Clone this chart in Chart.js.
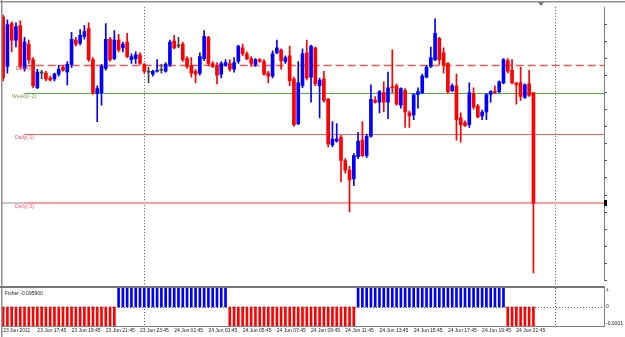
<!DOCTYPE html>
<html>
<head>
<meta charset="utf-8">
<script src="https://cdn.jsdelivr.net/npm/chart.js@4.4.1/dist/chart.umd.min.js"></script>
<style>
  html, body { margin: 0; padding: 0; background: #fff; }
  #wrap { position: relative; width: 625px; height: 337px; overflow: hidden; }
  canvas { position: absolute; left: 0; }
  #main { top: 0; }
  #ind { top: 288px; }
</style>
</head>
<body>
<div id="wrap">
  <canvas id="main" width="625" height="288"></canvas>
  <canvas id="ind" width="625" height="49"></canvas>
</div>
<script>
// 15 minute bars, 23 Jun 2011 15:45 .. 24 Jun 22:45
const opens = [
  1.42470, 1.42215, 1.42435, 1.42350, 1.42425, 1.42205, 1.42330, 1.42250, 1.42105, 1.42180,
  1.42180, 1.42155, 1.42150, 1.42175, 1.42210, 1.42185, 1.42225, 1.42350, 1.42335, 1.42370,
  1.42410, 1.42250, 1.42075, 1.42080, 1.42205, 1.42355, 1.42255, 1.42350, 1.42310, 1.42340,
  1.42250, 1.42255, 1.42275, 1.42225, 1.42185, 1.42175, 1.42190, 1.42195, 1.42190, 1.42225,
  1.42345, 1.42320, 1.42330, 1.42255, 1.42220, 1.42190, 1.42180, 1.42255, 1.42365, 1.42230,
  1.42220, 1.42175, 1.42220, 1.42230, 1.42200, 1.42240, 1.42310, 1.42280, 1.42255, 1.42225,
  1.42250, 1.42240, 1.42180, 1.42165, 1.42285, 1.42300, 1.42240, 1.42270, 1.42150, 1.41920,
  1.42115, 1.42285, 1.42160, 1.42310, 1.42115, 1.42150, 1.42045, 1.41810, 1.41830, 1.41850,
  1.41730, 1.41680, 1.41635, 1.41750, 1.41835, 1.41755, 1.41855, 1.42040, 1.42030, 1.42080,
  1.42030, 1.42110, 1.42115, 1.42015, 1.42090, 1.41975, 1.41965, 1.42070, 1.42080, 1.42160,
  1.42215, 1.42250, 1.42360, 1.42285, 1.42230, 1.42090, 1.42115, 1.41950, 1.41925, 1.41915,
  1.42075, 1.42010, 1.41960, 1.41980, 1.42070, 1.42085, 1.42085, 1.42130, 1.42245, 1.42195,
  1.42130, 1.42130, 1.42055, 1.42125, 1.42080
];
const highs = [
  1.42480, 1.42455, 1.42445, 1.42440, 1.42450, 1.42365, 1.42350, 1.42260, 1.42200, 1.42195,
  1.42190, 1.42165, 1.42180, 1.42220, 1.42220, 1.42240, 1.42390, 1.42365, 1.42405, 1.42425,
  1.42440, 1.42260, 1.42115, 1.42225, 1.42435, 1.42365, 1.42400, 1.42380, 1.42340, 1.42385,
  1.42280, 1.42290, 1.42285, 1.42230, 1.42210, 1.42195, 1.42250, 1.42225, 1.42235, 1.42350,
  1.42375, 1.42365, 1.42340, 1.42265, 1.42260, 1.42200, 1.42285, 1.42400, 1.42370, 1.42240,
  1.42235, 1.42240, 1.42250, 1.42250, 1.42260, 1.42325, 1.42330, 1.42290, 1.42265, 1.42255,
  1.42255, 1.42250, 1.42190, 1.42295, 1.42350, 1.42305, 1.42270, 1.42320, 1.42160, 1.42240,
  1.42305, 1.42350, 1.42325, 1.42315, 1.42155, 1.42190, 1.42050, 1.41930, 1.41920, 1.41860,
  1.41740, 1.41700, 1.41765, 1.41875, 1.41930, 1.41865, 1.42120, 1.42060, 1.42090, 1.42135,
  1.42185, 1.42300, 1.42125, 1.42105, 1.42100, 1.41985, 1.42075, 1.42105, 1.42175, 1.42220,
  1.42315, 1.42460, 1.42365, 1.42310, 1.42235, 1.42125, 1.42175, 1.41975, 1.41935, 1.42130,
  1.42105, 1.42020, 1.41990, 1.42075, 1.42090, 1.42115, 1.42140, 1.42255, 1.42255, 1.42250,
  1.42130, 1.42210, 1.42125, 1.42195, 1.42080
];
const lows = [
  1.42140, 1.42180, 1.42290, 1.42315, 1.42205, 1.42190, 1.42230, 1.42105, 1.42100, 1.42150,
  1.42140, 1.42140, 1.42140, 1.42165, 1.42190, 1.42120, 1.42210, 1.42320, 1.42325, 1.42355,
  1.42240, 1.42070, 1.41930, 1.42015, 1.42195, 1.42240, 1.42250, 1.42290, 1.42290, 1.42260,
  1.42230, 1.42230, 1.42225, 1.42180, 1.42130, 1.42165, 1.42185, 1.42180, 1.42185, 1.42215,
  1.42305, 1.42310, 1.42240, 1.42205, 1.42160, 1.42130, 1.42170, 1.42245, 1.42220, 1.42210,
  1.42125, 1.42155, 1.42215, 1.42190, 1.42185, 1.42230, 1.42270, 1.42250, 1.42215, 1.42215,
  1.42235, 1.42170, 1.42130, 1.42155, 1.42280, 1.42200, 1.42230, 1.42115, 1.41905, 1.41915,
  1.42105, 1.42145, 1.42030, 1.42115, 1.41950, 1.42030, 1.41800, 1.41800, 1.41825, 1.41620,
  1.41665, 1.41465, 1.41600, 1.41740, 1.41750, 1.41745, 1.41850, 1.42025, 1.41975, 1.41980,
  1.41945, 1.42080, 1.42015, 1.42000, 1.41900, 1.41900, 1.41940, 1.42000, 1.42075, 1.42155,
  1.42210, 1.42245, 1.42225, 1.42180, 1.42075, 1.42085, 1.41835, 1.41825, 1.41905, 1.41900,
  1.41995, 1.41950, 1.41940, 1.41940, 1.42030, 1.42075, 1.42080, 1.42125, 1.42180, 1.42125,
  1.42020, 1.42040, 1.42050, 1.42060, 1.41150
];
const closes = [
  1.42155, 1.42430, 1.42350, 1.42420, 1.42215, 1.42340, 1.42250, 1.42115, 1.42185, 1.42180,
  1.42150, 1.42145, 1.42175, 1.42200, 1.42195, 1.42225, 1.42355, 1.42330, 1.42375, 1.42395,
  1.42250, 1.42080, 1.42100, 1.42215, 1.42355, 1.42250, 1.42350, 1.42300, 1.42330, 1.42265,
  1.42265, 1.42275, 1.42230, 1.42190, 1.42185, 1.42190, 1.42195, 1.42195, 1.42225, 1.42340,
  1.42310, 1.42320, 1.42250, 1.42215, 1.42180, 1.42175, 1.42265, 1.42370, 1.42230, 1.42215,
  1.42170, 1.42230, 1.42235, 1.42200, 1.42235, 1.42320, 1.42280, 1.42255, 1.42230, 1.42250,
  1.42240, 1.42175, 1.42165, 1.42280, 1.42310, 1.42245, 1.42260, 1.42140, 1.41915, 1.42130,
  1.42280, 1.42155, 1.42320, 1.42125, 1.42145, 1.42040, 1.41815, 1.41840, 1.41840, 1.41730,
  1.41680, 1.41630, 1.41755, 1.41830, 1.41755, 1.41855, 1.42045, 1.42030, 1.42085, 1.42030,
  1.42105, 1.42105, 1.42020, 1.42100, 1.41980, 1.41960, 1.42070, 1.42085, 1.42165, 1.42210,
  1.42260, 1.42385, 1.42250, 1.42220, 1.42085, 1.42115, 1.41940, 1.41915, 1.41910, 1.42080,
  1.42005, 1.41955, 1.41980, 1.42070, 1.42085, 1.42080, 1.42135, 1.42250, 1.42190, 1.42130,
  1.42120, 1.42060, 1.42120, 1.42065, 1.41510
];
// Fisher histogram (sign buffer)
const fisher = [
  -1, -1, -1, -1, -1, -1, -1, -1, -1, -1,
  -1, -1, -1, -1, -1, -1, -1, -1, -1, -1,
  -1, -1, -1, -1, -1, -1, -1, 1, 1, 1,
  1, 1, 1, 1, 1, 1, 1, 1, 1, 1,
  1, 1, 1, 1, 1, 1, 1, 1, 1, 1,
  1, 1, 1, -1, -1, -1, -1, -1, -1, -1,
  -1, -1, -1, -1, -1, -1, -1, -1, -1, -1,
  -1, -1, -1, -1, -1, -1, -1, -1, -1, -1,
  -1, -1, -1, 1, 1, 1, 1, 1, 1, 1,
  1, 1, 1, 1, 1, 1, 1, 1, 1, 1,
  1, 1, 1, 1, 1, 1, 1, 1, 1, 1,
  1, 1, 1, 1, 1, 1, 1, 1, -1, -1,
  -1, -1, -1, -1, -1
];
const fisherText = "Fisher -0.095900";

// time axis: one label every 8 bars
const axisLabels = [
  "23 Jun 2011", "23 Jun 17:45", "23 Jun 19:45", "23 Jun 21:45", "23 Jun 23:45",
  "24 Jun 01:45", "24 Jun 03:45", "24 Jun 05:45", "24 Jun 07:45", "24 Jun 09:45",
  "24 Jun 11:45", "24 Jun 13:45", "24 Jun 15:45", "24 Jun 17:45", "24 Jun 19:45",
  "24 Jun 21:45"
];
const barsPerLabel = 8;
const totalSlots = 141;          // includes empty future bars
const daySeparators = [33, 129]; // bars at 00:00

const priceTicks = [
  1.41112, 1.41200, 1.41288, 1.41376, 1.41464, 1.41552, 1.41640, 1.41728, 1.41816,
  1.41904, 1.41992, 1.42080, 1.42168, 1.42256, 1.42344, 1.42432
];
const priceMin = 1.41110, priceMax = 1.42520;

const levelNames = ["Daily(0)", "Weekly(-2)", "Daily(-1)", "Daily(-2)"];
const levelValues = [1.42220, 1.42080, 1.41865, 1.41512];

const indLabels = ["1", "0", "-0.0001"];
const indLabelValues = [0.9, 0, -0.85];

// ----------------------------------------------------------------
const slots = Array.from({ length: totalSlots }, (_, i) =>
  i % barsPerLabel === 0 && axisLabels[i / barsPerLabel] ? axisLabels[i / barsPerLabel] : "");

const candleColor = (i) => closes[i] > opens[i] ? "#0000ff" : closes[i] < opens[i] ? "#ff0000" : "#404040";
const colors = opens.map((_, i) => candleColor(i));

const levelStyles = [
  { color: "#f25858", width: 1.5, dash: [8, 4], text: "#d84848", tx: 15 },
  { color: "#4caf3a", width: 1.2, dash: [], text: "#7d9a52", tx: 11 },
  { color: "#f06464", width: 1, dash: [], text: "#f0506a", tx: 14 },
  { color: "#ff9c9c", width: 2, dash: [], text: "#ff5c7c", tx: 14 }
];
const tinyFont = "5px 'Liberation Sans', Arial, sans-serif";

const mainDecor = {
  id: "mainDecor",
  beforeDatasetsDraw(chart) {
    const { ctx, chartArea: a, scales: { x, y } } = chart;
    ctx.save();
    // day separators
    ctx.strokeStyle = "#555";
    ctx.lineWidth = 1;
    ctx.setLineDash([1, 2]);
    daySeparators.forEach(i => {
      const px = Math.round(x.getPixelForValue(i)) + 0.5;
      ctx.beginPath(); ctx.moveTo(px, a.top); ctx.lineTo(px, chart.height); ctx.stroke();
    });
    // level lines
    const startX = x.getPixelForValue(4.8);
    levelValues.forEach((v, k) => {
      const st = levelStyles[k];
      let py = y.getPixelForValue(v);
      py = st.width === 2 ? Math.round(py) : Math.round(py) + 0.5;
      if (k === 3) {
        ctx.setLineDash([]);
        ctx.strokeStyle = "#c8c8c8"; ctx.lineWidth = 2;
        ctx.beginPath(); ctx.moveTo(a.left, py); ctx.lineTo(startX, py); ctx.stroke();
      }
      ctx.setLineDash(st.dash);
      ctx.strokeStyle = st.color;
      ctx.lineWidth = st.width;
      ctx.beginPath(); ctx.moveTo(startX, py); ctx.lineTo(a.right, py); ctx.stroke();
    });
    ctx.restore();
  },
  afterDraw(chart) {
    const { ctx, chartArea: a, scales: { y } } = chart;
    ctx.save();
    ctx.font = tinyFont;
    ctx.textBaseline = "top";
    levelValues.forEach((v, k) => {
      const st = levelStyles[k];
      ctx.fillStyle = st.text;
      ctx.fillText(levelNames[k], a.left + st.tx, Math.round(y.getPixelForValue(v)) + 1);
    });
    // price marker on the axis
    const pm = Math.round(y.getPixelForValue(closes[closes.length - 1]));
    ctx.fillStyle = "#000";
    ctx.fillRect(a.right, pm - 3, 3, 6);
    // chart shift marker
    ctx.fillStyle = "#777";
    ctx.beginPath(); ctx.moveTo(538, 2); ctx.lineTo(544, 2); ctx.lineTo(541, 6); ctx.closePath(); ctx.fill();
    // frame
    ctx.fillStyle = "#909090";
    ctx.fillRect(0, 1, 625, 1.5);
    ctx.fillRect(1, 0, 1.5, chart.height);
    ctx.fillStyle = "#777";
    ctx.fillRect(0, 286, a.right + 1, 2);
    ctx.restore();
  }
};

const xOpts = (show) => ({
  type: "category",
  labels: slots,
  display: show,
  offset: true,
  grid: { display: false, drawTicks: false, tickLength: 0 },
  border: { display: show, color: "#808080" },
  ticks: {
    autoSkip: false, maxRotation: 0, align: "start", padding: 2,
    color: "#222", font: { family: "'Liberation Sans', Arial, sans-serif", size: 5 }
  },
  afterFit: (s) => { if (show) s.height = 11; }
});

new Chart(document.getElementById("main"), {
  type: "bar",
  data: {
    labels: slots,
    datasets: [
      { label: "body", data: opens.map((o, i) => [o, closes[i]]), backgroundColor: colors,
        barThickness: 3, minBarLength: 1, grouped: false, borderWidth: 0 },
      { label: "wick", data: lows.map((l, i) => [l, highs[i]]), backgroundColor: colors,
        barThickness: 1, grouped: false, borderWidth: 0 }
    ]
  },
  options: {
    responsive: false,
    animation: false,
    devicePixelRatio: 1,
    layout: { padding: { left: 1, top: 4, bottom: 2, right: 0 } },
    plugins: { legend: { display: false }, tooltip: { enabled: false } },
    scales: {
      x: xOpts(false),
      y: {
        position: "right",
        min: priceMin, max: priceMax,
        afterBuildTicks: (s) => { s.ticks = priceTicks.map(v => ({ value: v })); },
        afterFit: (s) => { s.width = 21; },
        grid: { drawOnChartArea: false, drawTicks: true, tickLength: 3, color: "#505050" },
        border: { display: true, color: "#808080" },
        ticks: { callback: () => "", padding: 0 }
      }
    }
  },
  plugins: [mainDecor]
});

const indDecor = {
  id: "indDecor",
  beforeDatasetsDraw(chart) {
    const { ctx, chartArea: a, scales: { x, y } } = chart;
    ctx.save();
    ctx.strokeStyle = "#666";
    ctx.lineWidth = 1;
    ctx.setLineDash([1, 2]);
    const py = Math.round(y.getPixelForValue(0)) + 0.5;
    ctx.beginPath(); ctx.moveTo(a.left, py); ctx.lineTo(a.right, py); ctx.stroke();
    ctx.strokeStyle = "#555";
    daySeparators.forEach(i => {
      const px = Math.round(x.getPixelForValue(i)) + 0.5;
      ctx.beginPath(); ctx.moveTo(px, 0); ctx.lineTo(px, a.bottom); ctx.stroke();
    });
    ctx.restore();
  },
  afterDraw(chart) {
    const { ctx, chartArea: a, scales: { y } } = chart;
    ctx.save();
    ctx.font = tinyFont;
    ctx.textBaseline = "middle";
    ctx.fillStyle = "#222";
    ctx.fillText(fisherText, a.left + 4, 6);
    indLabels.forEach((t, k) => ctx.fillText(t, a.right + 2, y.getPixelForValue(indLabelValues[k])));
    ctx.fillStyle = "#909090";
    ctx.fillRect(1, 0, 1.5, chart.height);
    ctx.restore();
  }
};

new Chart(document.getElementById("ind"), {
  type: "bar",
  data: {
    labels: slots,
    datasets: [
      { label: "Fisher", data: fisher, backgroundColor: fisher.map(v => v > 0 ? "#0000ff" : "#ff0000"),
        barThickness: 2, borderWidth: 0 }
    ]
  },
  options: {
    responsive: false,
    animation: false,
    devicePixelRatio: 1,
    layout: { padding: { left: 1, top: 0, bottom: 0, right: 0 } },
    plugins: { legend: { display: false }, tooltip: { enabled: false } },
    scales: {
      x: xOpts(true),
      y: {
        position: "right",
        min: -1, max: 1,
        afterFit: (s) => { s.width = 21; },
        grid: { display: false },
        border: { display: true, color: "#808080" },
        ticks: { display: false }
      }
    }
  },
  plugins: [indDecor]
});
</script>
</body>
</html>
